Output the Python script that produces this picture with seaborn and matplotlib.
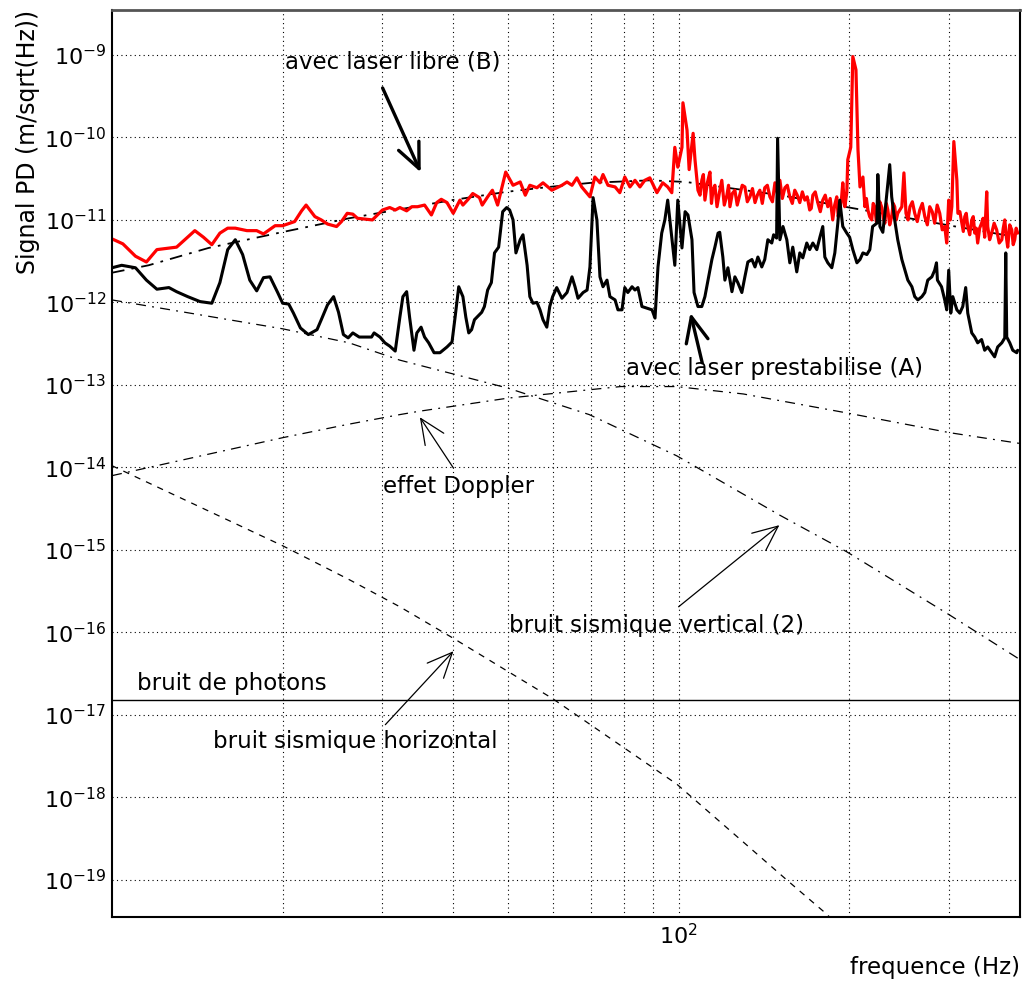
import numpy as np
import matplotlib
matplotlib.use("Agg")
import matplotlib.pyplot as plt
import seaborn as sns
from matplotlib.ticker import FixedLocator, LogLocator, NullFormatter

# ---------------------------------------
# Data (frequency in Hz, amplitude as log10 value)
# ---------------------------------------

# free laser (B) - red measured curve
red_freq = [10.0, 10.45, 11.0, 11.5, 12.0, 13.0, 14.0, 14.5, 15.0, 15.5, 16.0, 16.5, 17.3, 18.0,
            18.5, 19.4, 20.0, 21.0, 21.6, 22.0, 22.8, 23.4, 24.0, 24.9, 25.4, 26.0, 26.6, 27.1,
            28.8, 30.0, 30.9, 31.6, 32.2, 33.1, 33.8, 34.6, 35.6, 36.6, 37.4, 38.1, 39.0, 40.0,
            41.1, 41.6, 42.5, 43.3, 44.5, 45.0, 46.0, 46.9, 47.9, 49.5, 51.0, 52.5, 53.6, 54.6,
            56.2, 57.6, 59.7, 62.2, 63.5, 64.8, 66.1, 67.4, 69.7, 71.1, 72.6, 73.5, 75.0, 77.2,
            78.7, 80.3, 82.0, 83.7, 85.4, 87.1, 88.9, 91.5, 93.7, 95.6, 97.2, 98.4, 99.6, 101.3,
            101.7, 103.4, 104.3, 106.0, 106.8, 108.1, 109.0, 109.8, 110.5, 111.2, 112.3, 113.5,
            114.2, 114.9, 115.8, 116.8, 118.0, 119.1, 120.3, 121.6, 122.4, 123.1, 124.3, 125.6,
            126.8, 128.1, 129.4, 130.8, 132.1, 133.5, 134.9, 136.3, 137.6, 139.0, 140.4, 141.8,
            143.3, 144.8, 146.3, 147.8, 149.3, 150.8, 152.3, 153.9, 155.4, 157.0, 158.6, 160.2,
            161.8, 163.5, 165.2, 166.9, 168.5, 170.2, 171.3, 172.4, 174.1, 175.9, 177.7, 179.5,
            181.3, 183.2, 185.0, 186.9, 188.4, 190.0, 191.1, 192.3, 193.5, 194.7, 196.3, 197.9,
            198.7, 201.1, 202.8, 205.4, 207.1, 208.8, 211.3, 213.0, 214.3, 215.6, 217.2, 219.0,
            220.3, 221.7, 223.1, 224.5, 226.3, 228.2, 229.6, 231.0, 232.4, 233.8, 235.6, 237.5,
            239.0, 240.4, 241.9, 243.4, 245.5, 247.5, 249.6, 251.7, 253.8, 255.8, 258.3, 260.8,
            263.5, 266.2, 269.0, 271.7, 274.5, 277.2, 280.0, 282.8, 285.7, 288.7, 291.6, 294.6,
            297.0, 299.4, 301.3, 303.2, 305.7, 309.5, 310.8, 313.3, 315.8, 317.7, 319.6, 321.5,
            323.5, 326.1, 328.8, 330.8, 332.8, 334.8, 336.8, 339.5, 342.2, 344.3, 346.5, 349.4,
            350.8, 353.6, 356.5, 360.1, 363.8, 367.6, 371.5, 373.7, 376.0, 378.3, 380.5, 383.6,
            386.8, 389.1, 391.5, 393.8, 396.2]
red_log = [-11.23, -11.29, -11.44, -11.51, -11.36, -11.33, -11.13, -11.21, -11.30, -11.16, -11.10,
           -11.10, -11.13, -11.13, -11.17, -11.07, -11.07, -11.02, -10.89, -10.82, -10.96, -11.00,
           -11.05, -11.08, -11.02, -10.92, -10.93, -10.98, -11.00, -10.88, -10.85, -10.88, -10.85,
           -10.89, -10.84, -10.84, -10.82, -10.94, -10.79, -10.75, -10.79, -10.92, -10.76, -10.82,
           -10.75, -10.68, -10.73, -10.82, -10.72, -10.64, -10.82, -10.42, -10.58, -10.54, -10.70,
           -10.58, -10.61, -10.55, -10.64, -10.58, -10.54, -10.58, -10.49, -10.60, -10.72, -10.48,
           -10.55, -10.45, -10.58, -10.60, -10.67, -10.48, -10.60, -10.52, -10.60, -10.52, -10.49,
           -10.67, -10.55, -10.60, -10.67, -10.12, -10.36, -10.12, -9.58, -9.91, -10.39, -9.95,
           -10.27, -10.64, -10.70, -10.52, -10.45, -10.76, -10.55, -10.42,
           -10.80, -10.64, -10.58, -10.84, -10.66, -10.52, -10.82, -10.70, -10.58, -10.84, -10.68, -10.64,
           -10.82, -10.70, -10.58, -10.60, -10.78, -10.72, -10.62, -10.79, -10.70, -10.64, -10.80, -10.61,
           -10.58, -10.72, -10.78, -10.55, -10.68, -10.52, -10.74, -10.61, -10.58, -10.72, -10.80, -10.64,
           -10.70, -10.79, -10.66, -10.76, -10.72, -10.88, -10.86, -10.70, -10.66, -10.79, -10.90, -10.76,
           -10.70, -10.84, -10.74, -11.00, -10.82, -10.72, -10.96, -10.88, -10.78, -10.55, -10.84, -10.67,
           -10.27, -10.12, -9.02, -9.18, -10.15, -10.60, -10.48, -10.84, -10.74, -10.88, -10.96, -11.00,
           -10.80, -10.84, -11.02, -10.96, -10.78, -10.85, -10.98, -11.04, -10.80, -10.88, -11.06, -10.96,
           -10.80, -10.84, -11.00, -10.92, -10.88, -10.84, -10.43, -10.92, -11.00, -10.84, -10.78, -10.92,
           -11.02, -10.88, -10.80, -10.96, -11.06, -10.84, -10.90, -11.04, -10.82, -10.92, -11.12, -11.08,
           -11.28, -10.76, -11.00, -10.84, -10.05, -10.52, -10.92, -10.90, -11.04, -11.14, -10.96, -10.92,
           -11.08, -11.18, -11.00, -10.96, -11.16, -11.10, -11.28, -11.10, -11.04, -10.98, -11.21, -10.66,
           -11.08, -11.24, -11.16, -11.04, -11.12, -11.28, -11.24, -11.10, -11.00, -11.20, -11.33, -11.06,
           -11.12, -11.30, -11.24, -11.10, -11.16]

# prestabilised laser (A) - black measured curve
black_freq = [10.0, 10.4, 11.0, 11.5, 12.0, 12.6, 13.0, 13.6, 14.3, 15.0, 15.5, 16.0, 16.5, 17.0,
              17.5, 18.0, 18.5, 19.0, 19.6, 20.0, 20.5, 20.9, 21.5, 22.2, 23.0, 23.4, 24.0, 24.6,
              25.1, 25.6, 26.1, 26.6, 27.3, 28.1, 28.7, 29.0, 29.7, 30.3, 30.9, 31.6, 32.2, 32.6,
              33.1, 33.5, 34.1, 34.5, 35.1, 35.6, 36.2, 37.0, 37.9, 39.0, 39.8, 40.3, 40.9, 41.6,
              42.1, 42.6, 43.1, 43.6, 44.9, 45.4, 46.0, 46.7, 47.3, 48.1, 48.9, 49.7, 50.3, 51.0,
              51.6, 52.5, 53.1, 54.0, 54.6, 55.3, 56.2, 56.9, 57.6, 58.5, 59.2, 59.9, 60.9, 62.2,
              63.5, 64.8, 65.6, 66.4, 67.8, 68.9, 69.7, 70.6, 71.7, 72.6, 73.5, 74.7, 75.6, 77.2,
              78.1, 79.4, 80.3, 81.3, 82.7, 83.7, 84.7, 86.1, 87.9, 89.7, 90.8, 91.9, 93.3, 94.5,
              95.6, 97.2, 98.4, 99.6, 101.3, 102.6, 103.8, 105.5, 106.4, 108.1, 109.8, 111.2, 112.6,
              114.4, 115.8, 117.3, 118.1, 119.6, 120.6, 122.1, 124.1, 125.6, 127.1, 129.2, 130.8,
              132.4, 134.6, 136.3, 137.9, 140.1, 141.8, 143.6, 145.9, 147.0, 148.8, 149.4, 150.8,
              152.7, 155.1, 157.0, 158.9, 161.5, 163.5, 165.5, 168.2, 170.2, 172.4, 175.2, 177.4,
              179.5, 181.0, 183.2, 186.2, 188.5, 190.8, 192.3, 194.7, 197.9, 200.2, 202.8, 206.2,
              208.8, 211.3, 214.7, 217.3, 219.8, 223.6, 224.5, 226.4, 229.1, 231.0, 232.9, 235.6,
              237.5, 240.4, 243.4, 247.5, 250.6, 253.6, 257.8, 260.8, 264.1, 268.5, 271.7, 275.0,
              279.6, 282.8, 284.9, 286.0, 290.8, 294.6, 297.0, 299.4, 301.9, 304.4, 309.5, 313.2,
              317.0, 320.8, 323.5, 328.8, 332.8, 336.8, 342.2, 346.5, 350.8, 356.5, 360.8, 365.3,
              371.5, 376.0, 377.5, 379.0, 383.7, 388.4, 394.7, 396.2]
black_log = [-11.58, -11.55, -11.58, -11.73, -11.84, -11.82, -11.87, -11.93, -11.99, -12.01, -11.76,
             -11.36, -11.24, -11.42, -11.73, -11.86, -11.70, -11.69, -11.88, -12.01, -12.02, -12.13,
             -12.31, -12.39, -12.33, -12.21, -12.03, -11.93, -12.12, -12.39, -12.43, -12.37, -12.42,
             -12.42, -12.42, -12.37, -12.42, -12.49, -12.53, -12.59, -12.18, -11.93, -11.87, -12.18,
             -12.58, -12.37, -12.30, -12.42, -12.49, -12.61, -12.61, -12.54, -12.48, -12.18, -11.81,
             -11.93, -12.18, -12.37, -12.33, -12.21, -12.12, -12.05, -11.85, -11.76, -11.40, -11.33,
             -10.90, -10.85, -10.88, -11.00, -11.40, -11.24, -11.18, -11.55, -11.93, -12.01, -12.00,
             -12.09, -12.21, -12.30, -12.05, -11.93, -11.82, -11.95, -11.88, -11.69, -11.81, -11.95,
             -11.88, -11.85, -11.57, -10.73, -11.00, -11.69, -11.81, -11.73, -11.93, -11.97, -12.09,
             -12.09, -11.82, -11.88, -11.81, -11.85, -11.82, -12.05, -12.07, -12.09, -12.19, -11.57,
             -11.16, -11.00, -10.76, -11.21, -11.55, -10.76, -11.34, -10.90, -10.94, -11.24, -11.88,
             -12.05, -12.05, -11.93, -11.73, -11.48, -11.33, -11.16, -11.15, -11.45, -11.73, -11.58,
             -11.87, -11.69, -11.76, -11.88, -11.69, -11.51, -11.48, -11.57, -11.45, -11.57, -11.48,
             -11.24, -11.28, -11.18, -11.22, -10.01, -11.24, -11.08, -11.24, -11.52, -11.33, -11.63,
             -11.40, -11.46, -11.28, -11.36, -11.28, -11.36, -11.21, -11.08, -11.45, -11.52, -11.58,
             -11.40, -11.04, -10.76, -11.08, -11.16, -11.21, -11.36, -11.52, -11.48, -11.40, -11.42,
             -11.36, -11.08, -11.04, -10.45, -11.08, -11.15, -10.92, -10.67, -10.33, -10.72, -11.00,
             -11.24, -11.48, -11.61, -11.73, -11.81, -11.93, -11.97, -11.93, -11.88, -11.73, -11.69,
             -11.61, -11.52, -11.73, -11.81, -11.97, -12.09, -11.61, -12.13, -11.93, -12.09, -12.13,
             -12.05, -11.82, -12.13, -12.37, -12.42, -12.49, -12.45, -12.58, -12.54, -12.61, -12.66,
             -12.54, -12.49, -12.43, -11.40, -12.42, -12.49, -12.58, -12.61, -12.58]

# model for the free laser (dash-dot through the red curve)
libre_freq = [10.0, 11.6, 14.8, 19.9, 26.2, 39.8, 49.6, 59.1, 70.1, 88.9, 103.0, 151.0, 200.0, 302.0, 396.0]
libre_log = [-11.64, -11.55, -11.34, -11.15, -10.98, -10.76, -10.66, -10.60, -10.55, -10.52,
             -10.54, -10.70, -10.85, -11.07, -11.21]

# Doppler effect
doppler_freq = [10.0, 20.0, 26.0, 32.2, 34.8, 50.0, 79.0, 99.0, 130.0, 198.0, 301.0, 400.0]
doppler_log = [-14.10, -13.64, -13.48, -13.36, -13.32, -13.16, -13.02, -13.02, -13.11, -13.34, -13.58, -13.71]

# vertical seismic noise (2)
vert_freq = [10.0, 20.0, 26.2, 32.2, 50.0, 69.5, 99.2, 150.8, 197.5, 300.6, 400.0]
vert_log = [-11.97, -12.32, -12.49, -12.70, -13.04, -13.36, -13.86, -14.58, -15.02, -15.79, -16.33]

# horizontal seismic noise
horiz_freq = [10.0, 20.0, 26.2, 32.2, 40.2, 59.8, 99.2, 155.6, 182.7, 200.0]
horiz_log = [-13.98, -14.95, -15.36, -15.69, -16.08, -16.80, -17.84, -19.01, -19.42, -19.70]

# photon shot noise
photon_freq = [10.0, 400.0]
photon_log = [-16.82, -16.82]

decades = list(range(-19, -8))

# ---------------------------------------
# Figure
# ---------------------------------------
sns.set_style("white")
plt.rcParams["font.family"] = ["DejaVu Sans"]
plt.rcParams["text.color"] = "black"
plt.rcParams["axes.labelcolor"] = "black"

fig = plt.figure(figsize=(10.24, 9.88), dpi=100)
ax = fig.add_axes([0.1094, 0.0719, 0.8867, 0.918])
ax.set_xscale("log")
ax.set_yscale("log")


def amp(values):
    return 10.0 ** np.array(values)


# theoretical curves
sns.lineplot(x=photon_freq, y=amp(photon_log), ax=ax, color="black", lw=1.0)
sns.lineplot(x=horiz_freq, y=amp(horiz_log), ax=ax, color="black", lw=0.9,
             linestyle=(0, (5, 5)))
sns.lineplot(x=vert_freq, y=amp(vert_log), ax=ax, color="black", lw=0.9,
             linestyle=(0, (8, 5, 1.5, 5)))
sns.lineplot(x=doppler_freq, y=amp(doppler_log), ax=ax, color="black", lw=0.9,
             linestyle=(0, (8, 5, 1.5, 5)))
sns.lineplot(x=libre_freq, y=amp(libre_log), ax=ax, color="black", lw=1.3,
             linestyle=(0, (7, 4, 1.5, 4)))

# measured spectra
sns.lineplot(x=red_freq, y=amp(red_log), ax=ax, color="red", lw=2.3,
             estimator=None, sort=False)
sns.lineplot(x=black_freq, y=amp(black_log), ax=ax, color="black", lw=2.2,
             estimator=None, sort=False)

# axes range and ticks
ax.set_xlim(10, 400)
ax.set_ylim(10 ** -19.45, 10 ** -8.455)

ax.xaxis.set_major_locator(FixedLocator([100]))
ax.set_xticklabels([r"$\mathregular{10^{2}}$"])
ax.xaxis.set_minor_locator(FixedLocator([20, 30, 40, 50, 60, 70, 80, 90, 200, 300]))
ax.xaxis.set_minor_formatter(NullFormatter())

ax.yaxis.set_major_locator(FixedLocator([10.0 ** e for e in decades]))
ax.set_yticklabels([rf"$\mathregular{{10^{{{e}}}}}$" for e in decades])
ax.yaxis.set_minor_locator(LogLocator(base=10, subs=np.arange(2, 10), numticks=200))
ax.yaxis.set_minor_formatter(NullFormatter())

ax.tick_params(axis="both", which="both", direction="in", top=False, right=False,
               colors="black", labelsize=16, pad=4)
ax.tick_params(axis="both", which="major", length=12, width=1.2)
ax.tick_params(axis="both", which="minor", length=6, width=1.0)

ax.grid(which="major", axis="both", color="black", lw=0.8, linestyle=(0, (1, 3)))
ax.grid(which="minor", axis="x", color="black", lw=0.8, linestyle=(0, (1, 3)))

for side in ["left", "bottom", "right", "top"]:
    ax.spines[side].set_color("black")
    ax.spines[side].set_linewidth(1.5)
ax.spines["top"].set_color("#555555")
ax.spines["top"].set_linewidth(2.0)

ax.set_xlabel("frequence (Hz)", loc="right", fontsize=16.5, labelpad=6)
ax.set_ylabel("Signal PD (m/sqrt(Hz))", loc="top", fontsize=17, labelpad=3)

# annotations
text_kw = dict(transform=ax.transAxes, fontsize=16.5, va="center", ha="left", color="black")
ax.text(0.1905, 0.943, "avec laser libre (B)", **text_kw)
ax.text(0.566, 0.605, "avec laser prestabilise (A)", **text_kw)
ax.text(0.298, 0.475, "effet Doppler", **text_kw)
ax.text(0.437, 0.321, "bruit sismique vertical (2)", **text_kw)
ax.text(0.0275, 0.257, "bruit de photons", **text_kw)
ax.text(0.111, 0.193, "bruit sismique horizontal", **text_kw)

thick = dict(arrowstyle="->,head_length=0.9,head_width=0.4", lw=2.4, color="black",
             shrinkA=0, shrinkB=0, mutation_scale=20)
thin = dict(arrowstyle="->,head_length=0.9,head_width=0.4", lw=0.9, color="black",
            shrinkA=0, shrinkB=0, mutation_scale=20)
ax.annotate("", xy=(0.340, 0.821), xytext=(0.298, 0.914), xycoords="axes fraction",
            arrowprops=thick)
ax.annotate("", xy=(0.637, 0.666), xytext=(0.650, 0.611), xycoords="axes fraction",
            arrowprops=thick)
ax.annotate("", xy=(0.339, 0.551), xytext=(0.376, 0.495), xycoords="axes fraction",
            arrowprops=thin)
ax.annotate("", xy=(0.735, 0.432), xytext=(0.624, 0.342), xycoords="axes fraction",
            arrowprops=thin)
ax.annotate("", xy=(0.376, 0.293), xytext=(0.301, 0.212), xycoords="axes fraction",
            arrowprops=thin)

fig.savefig("out.png", dpi=100)
